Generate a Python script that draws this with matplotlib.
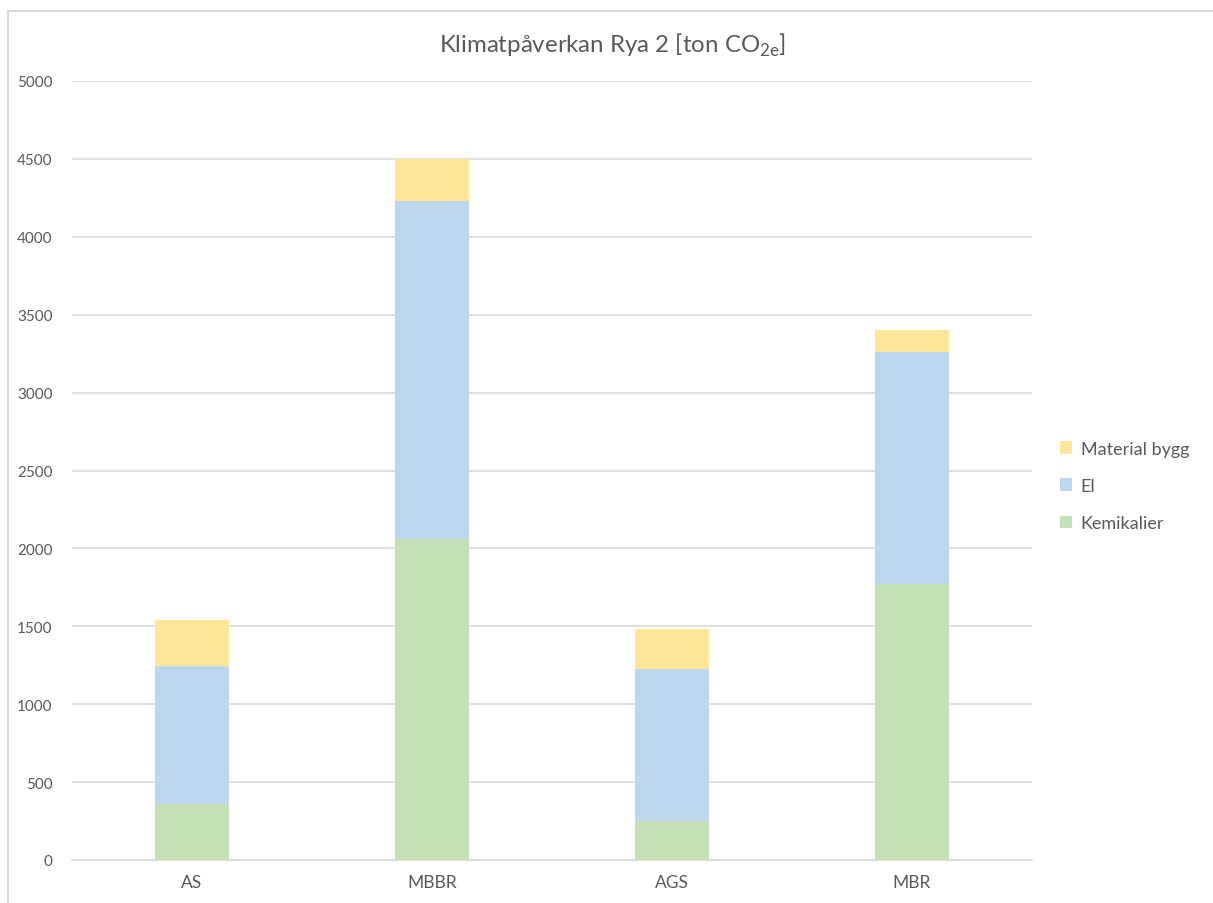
import matplotlib.pyplot as plt
from matplotlib.patches import Rectangle

# värden [ton CO2e]
kategorier = ['AS', 'MBBR', 'AGS', 'MBR']
kemikalier = [358, 2058, 253, 1773]
el = [884, 2170, 976, 1490]
material_bygg = [301, 272, 252, 136]

plt.rcParams['font.family'] = ['Lato', 'DejaVu Sans']
textfarg = '#595959'

fig = plt.figure(figsize=(12.13, 9.04), dpi=100)
ax = fig.add_axes([72/1213, 43/904, 960/1213, 779/904])

x = range(len(kategorier))
botten2 = [k + e for k, e in zip(kemikalier, el)]
b1 = ax.bar(x, kemikalier, 0.31, color='#C5E0B4', label='Kemikalier', zorder=3)
b2 = ax.bar(x, el, 0.31, bottom=kemikalier, color='#BDD7EE', label='El', zorder=3)
b3 = ax.bar(x, material_bygg, 0.31, bottom=botten2, color='#FFE699', label='Material bygg', zorder=3)

ax.set_xlim(-0.5, 3.5)
ax.set_ylim(0, 5000)
ax.set_yticks(range(0, 5001, 500))
ax.set_xticks(list(x))
ax.set_xticklabels(kategorier)
ax.grid(axis='y', color='#D9D9D9', linewidth=1.2, zorder=0)
for s in ['top', 'right', 'left']:
    ax.spines[s].set_visible(False)
ax.spines['bottom'].set_color('#D9D9D9')
ax.spines['bottom'].set_linewidth(1.2)
ax.tick_params(axis='both', length=0, colors=textfarg)
ax.tick_params(axis='y', pad=14, labelsize=11)
ax.tick_params(axis='x', pad=10, labelsize=12.5)

# titeln är centrerad över hela figuren
fig.text(612/1213, 1 - 45/904, r'Klimatpåverkan Rya 2 [ton CO$_{\mathregular{2e}}$]',
         fontsize=17.3, color=textfarg, ha='center', va='center')

leg = ax.legend(handles=[b3, b2, b1], loc='center left', bbox_to_anchor=(1.012, 0.48),
                frameon=False, fontsize=13, handlelength=0.7, handleheight=0.7,
                handletextpad=0.45, labelspacing=1.18)
for t in leg.get_texts():
    t.set_color(textfarg)

# ram runt diagrammet
fig.patches.append(Rectangle((8/1213, -0.05), 1.1, 1.05 - 12/904, transform=fig.transFigure,
                             fill=False, edgecolor='#D9D9D9', linewidth=1.5))

fig.savefig('out.png')
